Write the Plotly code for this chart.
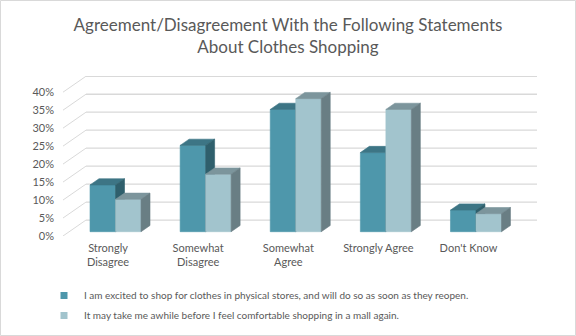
import plotly.graph_objects as go

# ---------------- data ----------------
categories = ["Strongly<br>Disagree", "Somewhat<br>Disagree", "Somewhat<br>Agree",
              "Strongly Agree", "Don't Know"]
series1_name = "I am excited to shop for clothes in physical stores, and will do so as soon as they reopen."
series2_name = "It may take me awhile before I feel comfortable shopping in a mall again."
series1 = [13, 24, 34, 22, 6]
series2 = [9, 16, 37, 34, 5]
y_ticks = [0, 5, 10, 15, 20, 25, 30, 35, 40]
y_ticklabels = ["0%", "5%", "10%", "15%", "20%", "25%", "30%", "35%", "40%"]

# ---------------- geometry / style ----------------
W, H = 576, 336
ML, MR, MT, MB = 63, 39, 76, 100
XMIN, XMAX = -0.5, 4.76
YMAX = 44.5
WALL_DX, WALL_DY = 0.255, 4.43        # depth of the 3D "room" (axis units)
BAR_DEPTH = 0.39                      # fraction of room depth
BDX, BDY = WALL_DX * BAR_DEPTH, WALL_DY * BAR_DEPTH
BASE = 1.2                            # front face base (bars sit a bit inside)
BW = 0.283
OFFSETS = [-0.20, -0.20 + BW]

GRID = "#D9D9D9"
TXT = "#595959"
FONT = "Lato"
COLORS = [
    dict(front="#4E97AB", top="#3D7585", side="#2F5F6C"),
    dict(front="#A2C4CD", top="#7C959C", side="#697E84"),
]

fig = go.Figure()

def faces(vals, off):
    front_x, front_y, top_x, top_y, side_x, side_y = [], [], [], [], [], []
    for i, v in enumerate(vals):
        x0 = i + off
        x1 = x0 + BW
        b, t = BASE, BASE + v
        front_x += [x0, x1, x1, x0, x0, None]
        front_y += [b, b, t, t, b, None]
        top_x += [x0, x1, x1 + BDX, x0 + BDX, x0, None]
        top_y += [t, t, t + BDY, t + BDY, t, None]
        side_x += [x1, x1 + BDX, x1 + BDX, x1, x1, None]
        side_y += [b, b + BDY, t + BDY, t, b, None]
    return (front_x, front_y), (top_x, top_y), (side_x, side_y)

for vals, off, col in zip([series1, series2], OFFSETS, COLORS):
    f, tp, sd = faces(vals, off)
    for (xs, ys), c in ((f, col["front"]), (tp, col["top"]), (sd, col["side"])):
        fig.add_trace(go.Scatter(
            x=xs, y=ys, mode="lines", fill="toself", fillcolor=c,
            line=dict(color=c, width=0.6), showlegend=False, hoverinfo="skip"))

# legend entries
for name, col in zip([series1_name, series2_name], COLORS):
    fig.add_trace(go.Scatter(
        x=[None], y=[None], mode="markers", name=name,
        marker=dict(symbol="square", size=7, color=col["front"]),
        legendgroup=name))

# back-wall gridlines and side-wall diagonals
shapes = []
for t in y_ticks:
    shapes.append(dict(type="line", xref="x", yref="y", layer="below",
                       x0=XMIN + WALL_DX, y0=t + WALL_DY, x1=XMAX, y1=t + WALL_DY,
                       line=dict(color=GRID, width=1.3)))
    shapes.append(dict(type="line", xref="x", yref="y", layer="below",
                       x0=XMIN, y0=t, x1=XMIN + WALL_DX, y1=t + WALL_DY,
                       line=dict(color=GRID, width=1)))

# chart border
pw, ph = W - ML - MR, H - MT - MB
shapes.append(dict(type="rect", xref="paper", yref="paper",
                   x0=(0.5 - ML) / pw, x1=(W - 0.5 - ML) / pw,
                   y0=-(MB - 0.5) / ph, y1=(ph + MT - 0.5) / ph,
                   line=dict(color=GRID, width=1), fillcolor="rgba(0,0,0,0)"))

fig.update_layout(
    width=W, height=H,
    margin=dict(l=ML, r=MR, t=MT, b=MB, pad=0, autoexpand=False),
    paper_bgcolor="white", plot_bgcolor="white",
    title=dict(text="Agreement/Disagreement With the Following Statements<br>About Clothes Shopping",
               x=0.5, xref="container", xanchor="center",
               y=1 - 31 / H, yref="container", yanchor="top",
               font=dict(family=FONT, size=17, color=TXT)),
    xaxis=dict(range=[XMIN, XMAX], tickvals=list(range(len(categories))),
               ticktext=categories, tickangle=0, showgrid=False, zeroline=False,
               showline=False, ticks="", ticklabelstandoff=4, automargin=False,
               tickfont=dict(family=FONT, size=11, color=TXT), fixedrange=True),
    yaxis=dict(range=[0, YMAX], tickvals=y_ticks, ticktext=y_ticklabels,
               showgrid=False, zeroline=False, showline=False, ticks="",
               ticklabelstandoff=8, automargin=False,
               tickfont=dict(family=FONT, size=11, color=TXT), fixedrange=True),
    legend=dict(xref="container", yref="container", x=44 / W, y=1 - 281 / H,
                xanchor="left", yanchor="top", orientation="v",
                traceorder="grouped", tracegroupgap=1,
                font=dict(family=FONT, size=10, color=TXT),
                bgcolor="rgba(0,0,0,0)"),
    shapes=shapes,
    showlegend=True,
)

fig.write_html("out.html")
